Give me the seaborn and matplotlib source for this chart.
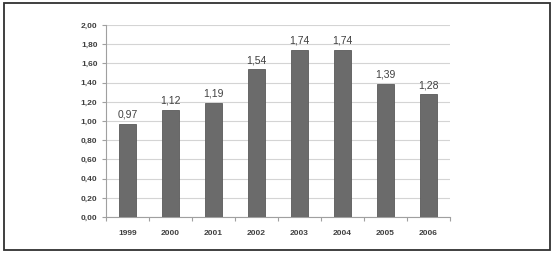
import numpy as np
import seaborn as sns
import matplotlib.pyplot as plt
from matplotlib.patches import Rectangle

years = ["1999", "2000", "2001", "2002", "2003", "2004", "2005", "2006"]
values = [0.97, 1.12, 1.19, 1.54, 1.74, 1.74, 1.39, 1.28]
yticks = [0.0, 0.2, 0.4, 0.6, 0.8, 1.0, 1.2, 1.4, 1.6, 1.8, 2.0]

sns.set_style("white")
plt.rcParams["font.family"] = ["Liberation Sans", "DejaVu Sans"]

fig = plt.figure(figsize=(5.54, 2.56), dpi=100)
ax = fig.add_axes([0.191, 0.152, 0.621, 0.750])

sns.barplot(x=years, y=values, color="#6b6b6b", width=0.4, saturation=1,
            edgecolor="#5a5a5a", linewidth=0.6, ax=ax, zorder=3)

# value labels with decimal comma
ax.bar_label(ax.containers[0], labels=[f"{v:.2f}".replace(".", ",") for v in values],
             padding=3, fontsize=7.5, color="#404040")

ax.set_ylim(0, 2.0)
ax.set_xlim(-0.5, len(years) - 0.5)
ax.set_yticks(yticks)
ax.set_yticklabels([f"{t:.2f}".replace(".", ",") for t in yticks],
                   fontsize=6, fontweight="bold", color="#404040")
ax.yaxis.grid(True, color="#d4d4d4", linewidth=0.8, zorder=0)
ax.set_axisbelow(True)

# category labels centred, tick marks between categories
ax.set_xticks(range(len(years)))
ax.set_xticklabels(years, fontsize=6, fontweight="bold", color="#404040")
ax.set_xticks(np.arange(-0.5, len(years)), minor=True)
ax.tick_params(axis="x", which="major", length=0, pad=9)
ax.tick_params(axis="x", which="minor", length=3, width=0.8, color="#a0a0a0", direction="out")
ax.tick_params(axis="y", length=3, width=0.8, color="#a0a0a0", direction="out", pad=3)
ax.tick_params(bottom=True, left=True, which="both")

for side in ["top", "right"]:
    ax.spines[side].set_visible(False)
for side in ["left", "bottom"]:
    ax.spines[side].set_color("#a0a0a0")
    ax.spines[side].set_linewidth(0.8)

ax.set_xlabel("")
ax.set_ylabel("")

# outer frame
fig.patches.append(Rectangle((0.007, 0.025), 0.986, 0.962, transform=fig.transFigure,
                             fill=False, edgecolor="#303030", linewidth=1.3))

fig.savefig("out.png", dpi=100)
plt.close(fig)
